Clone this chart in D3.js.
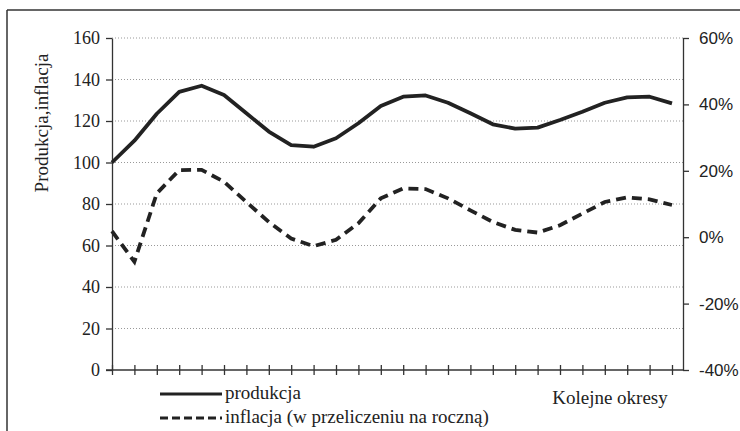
<!DOCTYPE html>
<html>
<head>
<meta charset="utf-8">
<script src="https://cdn.jsdelivr.net/npm/d3@7"></script>
<style>
  body { margin: 0; background: #fff; }
  svg { display: block; }
</style>
</head>
<body>
<svg id="chart"></svg>
<script>
// kolejne okresy 1..26
var periods = d3.range(1, 27);
var produkcja = [100, 110.5, 123.5, 134, 137, 132.5, 123.7, 114.9, 108.4, 107.6, 111.7, 118.9, 127.2,
                 131.7, 132.3, 128.8, 123.7, 118.4, 116.3, 116.8, 120.5, 124.5, 128.8, 131.4, 131.7, 128.5];
var inflacja = [1.8, -7.4, 13.2, 20.2, 20.3, 16.7, 10.6, 4.6, -0.4, -2.7, -0.8, 4.2, 11.7,
                14.7, 14.5, 11.7, 8.1, 4.6, 2.2, 1.4, 3.6, 7.1, 10.6, 12, 11.4, 9.7];
var leftTicks = [0, 20, 40, 60, 80, 100, 120, 140, 160];
var rightTicks = [-40, -20, 0, 20, 40, 60];

var SERIF = "'Liberation Serif', 'DejaVu Serif', serif";
var SANS = "'Liberation Sans', 'Open Sans', sans-serif";

var width = 740, height = 431;
var svg = d3.select("#chart").attr("width", width).attr("height", height);

// ramka (scan ucina prawą i dolną krawędź)
svg.append("line").attr("x1", 7).attr("x2", 740).attr("y1", 10).attr("y2", 10)
  .attr("stroke", "#333").attr("stroke-width", 1.5);
svg.append("line").attr("x1", 7).attr("x2", 7).attr("y1", 10).attr("y2", 431)
  .attr("stroke", "#333").attr("stroke-width", 1.5);

var plotLeft = 112, plotRight = 683, plotTop = 38, plotBottom = 370;

var x = d3.scaleLinear().domain([0, periods.length - 1]).range([112, 672]);
var yL = d3.scaleLinear().domain([0, 160]).range([plotBottom, plotTop]);
var yR = d3.scaleLinear().domain([-40, 60]).range([plotBottom, plotTop]);

// siatka
svg.append("g")
  .selectAll("line")
  .data(leftTicks.filter(d => d > 0))
  .join("line")
    .attr("x1", plotLeft).attr("x2", plotRight)
    .attr("y1", d => yL(d)).attr("y2", d => yL(d))
    .attr("stroke", "#999").attr("stroke-width", 1)
    .attr("stroke-dasharray", "1,2");

// oś lewa
var axL = svg.append("g")
  .attr("transform", "translate(" + plotLeft + ",0)")
  .call(d3.axisLeft(yL).tickValues(leftTicks).tickSize(6).tickPadding(6).tickSizeOuter(0));
axL.attr("font-family", SERIF).attr("font-size", 18);
axL.selectAll("text").attr("fill", "#222");

// oś prawa
var axR = svg.append("g")
  .attr("transform", "translate(" + plotRight + ",0)")
  .call(d3.axisRight(yR).tickValues(rightTicks).tickFormat(d => d + "%")
    .tickSize(6).tickPadding(10).tickSizeOuter(0));
axR.attr("font-family", SANS).attr("font-size", 17);
axR.selectAll("text").attr("fill", "#222");

// oś pozioma
var axB = svg.append("g")
  .attr("transform", "translate(0," + plotBottom + ")")
  .call(d3.axisBottom(x).tickValues(d3.range(periods.length)).tickFormat("").tickSize(5).tickSizeOuter(0));
axB.select(".domain").attr("d", "M" + (plotLeft - 6) + ",0H" + plotRight);
axB.selectAll(".tick line").attr("y1", -5);

svg.selectAll(".domain, .tick line").attr("stroke", "#333").attr("stroke-width", 1.3);

// linie
var lineP = d3.line().x((d, i) => x(i)).y(d => yL(d));
var lineI = d3.line().x((d, i) => x(i)).y(d => yR(d));

svg.append("path").datum(produkcja)
  .attr("d", lineP).attr("fill", "none")
  .attr("stroke", "#222").attr("stroke-width", 3.8).attr("stroke-linejoin", "round");

svg.append("path").datum(inflacja)
  .attr("d", lineI).attr("fill", "none")
  .attr("stroke", "#222").attr("stroke-width", 3.8)
  .attr("stroke-dasharray", "10,6");

// tytuły osi
svg.append("text")
  .attr("transform", "translate(48,123) rotate(-90)")
  .attr("text-anchor", "middle")
  .attr("font-family", SERIF).attr("font-size", 19).attr("fill", "#222")
  .text("Produkcja,inflacja");

svg.append("text")
  .attr("x", 610).attr("y", 404)
  .attr("text-anchor", "middle")
  .attr("font-family", SERIF).attr("font-size", 19).attr("fill", "#222")
  .text("Kolejne okresy");

// legenda
var legend = [
  { name: "produkcja", dash: null, y: 394 },
  { name: "inflacja (w przeliczeniu na roczną)", dash: "8,4", y: 418 }
];
var lg = svg.append("g").selectAll("g").data(legend).join("g");
lg.append("line")
  .attr("x1", 160).attr("x2", 222)
  .attr("y1", d => d.y).attr("y2", d => d.y)
  .attr("stroke", "#222").attr("stroke-width", 3)
  .attr("stroke-dasharray", d => d.dash);
lg.append("text")
  .attr("x", 225).attr("y", d => d.y + 5)
  .attr("font-family", SERIF).attr("font-size", 19).attr("fill", "#222")
  .text(d => d.name);
</script>
</body>
</html>
